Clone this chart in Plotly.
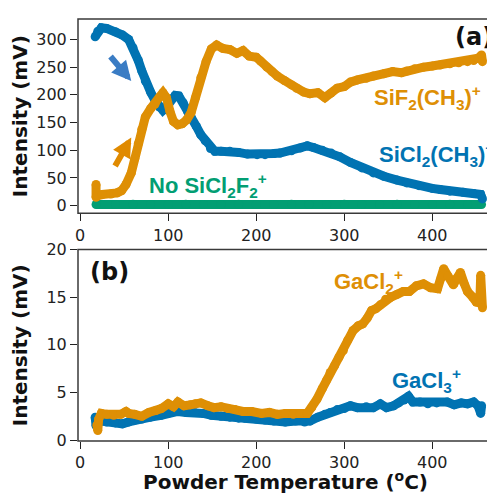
import plotly.graph_objects as go
from plotly.subplots import make_subplots

# ---- panel (a) data ----
sicl2_x = [17,20,24,30,40,48,55,60,66,70,74,80,85,90,94,98,103,108,112,117,122,126,132,137,142,148,153,160,170,180,190,201,210,220,227,240,250,258,265,275,285,295,307,320,333,345,360,371,385,400,409,420,435,447,455,457]
sicl2_y = [305,315,321,320,314,308,300,285,262,243,225,205,190,178,172,178,192,199,198,186,170,160,143,128,117,103,98,98,98,96,93,92,92,94,95,99,104,108,105,100,95,88,78,68,59,53,46,41,36,31,29,26,24,22,20,12]

sif2_x = [18,18,20,25,35,42,47,52,58,62,66,70,74,80,85,90,94,98,102,106,111,116,121,126,131,137,143,149,155,162,170,178,185,192,200,205,212,218,224,232,240,246,254,261,270,278,285,292,300,307,315,325,333,345,355,365,371,380,390,400,409,420,430,440,447,452,456,457]
sif2_y = [38,15,18,20,21,23,27,38,59,85,112,138,160,175,183,196,204,195,170,152,146,148,155,168,195,231,260,283,290,284,282,275,280,270,268,261,250,242,234,226,218,212,205,202,204,195,203,212,215,223,227,230,234,238,242,240,243,247,250,252,254,256,258,260,262,266,272,260]

sicl2f2_x = [18,40,60,80,100,120,140,160,180,200,220,240,260,280,300,320,340,360,380,400,420,440,456]
sicl2f2_y = [2,2,2.5,2,2,2.5,2,2,2.5,2,2,2.5,2,2,2.5,2,2,2.5,2,2,2.5,2,2]

# ---- panel (b) data ----
gacl3_x = [17,18,20,24,30,40,48,55,62,70,80,92,100,106,111,120,130,140,149,160,170,180,187,200,210,220,233,245,255,261,270,278,284,292,300,307,315,325,333,341,348,356,362,368,373,378,386,395,405,417,425,433,440,447,452,455,456]
gacl3_y = [2.4,1.5,1.8,2.0,1.9,1.8,1.7,1.9,2.1,2.2,2.4,2.6,2.8,3.1,3.0,2.9,2.9,2.8,2.6,2.5,2.4,2.3,2.3,2.2,2.1,2.0,1.9,2.0,1.9,2.0,2.4,2.7,2.9,3.2,3.3,3.6,3.4,3.5,3.4,3.8,3.4,3.6,3.9,4.2,4.6,4.0,4.0,3.8,3.9,4.0,3.7,3.9,3.8,4.0,3.6,2.8,3.6]

gacl2_x = [19,20,21,24,30,38,46,52,55,62,70,78,86,92,100,106,111,118,125,131,137,145,152,160,168,176,185,195,206,215,224,233,242,250,258,263,269,275,280,284,289,294,299,304,310,316,321,326,331,336,341,347,353,360,367,374,382,390,398,406,410,413,418,424,428,432,436,440,446,450,454,455,457]
gacl2_y = [1.6,1.0,2.2,2.8,2.7,2.6,2.7,3.0,2.8,2.7,2.5,2.9,3.1,3.3,3.8,3.5,4.0,3.6,3.7,3.8,3.9,3.6,3.4,3.5,3.3,3.2,3.0,3.0,2.8,2.9,2.7,2.8,2.7,2.8,2.8,3.4,4.3,5.4,6.3,7.1,7.8,8.7,9.4,10.5,11.5,12.0,12.2,12.8,13.6,13.8,14.2,14.8,15.0,15.3,15.6,15.6,16.2,16.4,16.0,15.9,17.0,18.0,17.2,16.3,17.0,17.6,16.5,15.6,15.0,14.5,14.4,17.3,13.9]

top_ticks = [0,50,100,150,200,250,300]
bot_ticks = [0,5,10,15,20]
x_ticks = [0,100,200,300,400]

BLUE = "#0173B2"
ORANGE = "#DE8F05"
GREEN = "#029E73"
FONT = "DejaVu Sans"
LFONT = "Liberation Sans"

fig = make_subplots(rows=2, cols=1, vertical_spacing=0.0)

def add(x, y, color, row):
    fig.add_trace(go.Scatter(x=x, y=y, mode="lines+markers",
                             line=dict(color=color, width=9),
                             marker=dict(color=color, size=9),
                             showlegend=False, hoverinfo="skip"), row=row, col=1)

add(sicl2f2_x, sicl2f2_y, GREEN, 1)
add(sicl2_x, sicl2_y, BLUE, 1)
add(sif2_x, sif2_y, ORANGE, 1)
add(gacl3_x, gacl3_y, BLUE, 2)
add(gacl2_x, gacl2_y, ORANGE, 2)

ax_common = dict(showline=False,
                 ticks="outside", ticklen=7, tickcolor="#222222", tickwidth=1.3, showgrid=False,
                 zeroline=False, layer="above traces",
                 tickfont=dict(family=FONT, size=16, color="#222"))

title_font = dict(family=FONT, size=20, color="#111", weight="bold")
fig.update_xaxes(range=[-2.5, 469], tickvals=x_ticks, domain=[0, 1], **ax_common)
fig.update_yaxes(**ax_common)
fig.update_yaxes(range=[-14, 337], tickvals=top_ticks, domain=[0.5395, 1.0], row=1, col=1,
                 title=dict(text="Intensity (mV)", font=title_font, standoff=6))
fig.update_yaxes(range=[-0.1, 20], tickvals=bot_ticks, domain=[0.0, 0.4535], row=2, col=1,
                 title=dict(text="Intensity (mV)", font=title_font, standoff=16))
fig.update_xaxes(row=2, col=1,
                 title=dict(text="Powder Temperature (<sup>o</sup>C)", font=title_font, standoff=6))

# panel frames
for xr, yr in (("x domain", "y domain"), ("x2 domain", "y2 domain")):
    fig.add_shape(type="rect", xref=xr, yref=yr, x0=0, x1=1, y0=0, y1=1,
                  line=dict(color="#3a3a3a", width=1.5), fillcolor="rgba(0,0,0,0)", layer="above")

def lab(c):
    return dict(family=LFONT, size=22, color=c, weight="bold")

annotations = [
    dict(x=1, y=1, xref="paper", yref="paper", text="(a)", showarrow=False,
         xanchor="right", yanchor="top", yshift=-2, xshift=2,
         font=dict(family=FONT, size=24, color="#111", weight="bold")),
    dict(x=0.024, y=0.4535, xref="paper", yref="paper", text="(b)", showarrow=False,
         xanchor="left", yanchor="top", yshift=-6,
         font=dict(family=FONT, size=24, color="#111", weight="bold")),
    dict(x=395, y=195, xref="x", yref="y", text="SiF<sub>2</sub>(CH<sub>3</sub>)<sup>+</sup>",
         showarrow=False, font=lab(ORANGE)),
    dict(x=405, y=92, xref="x", yref="y", text="SiCl<sub>2</sub>(CH<sub>3</sub>)<sup>+</sup>",
         showarrow=False, font=lab(BLUE)),
    dict(x=145, y=37, xref="x", yref="y", text="No SiCl<sub>2</sub>F<sub>2</sub><sup>+</sup>",
         showarrow=False, font=lab(GREEN)),
    dict(x=327, y=16.7, xref="x2", yref="y2", text="GaCl<sub>2</sub><sup>+</sup>",
         showarrow=False, font=lab(ORANGE)),
    dict(x=394, y=6.3, xref="x2", yref="y2", text="GaCl<sub>3</sub><sup>+</sup>",
         showarrow=False, font=lab(BLUE)),
    dict(x=58, y=225, xref="x", yref="y", ax=-22, ay=-26, text="", showarrow=True,
         arrowhead=2, arrowsize=0.65, arrowwidth=6, arrowcolor="#3A7CC4"),
    dict(x=58, y=123, xref="x", yref="y", ax=-17, ay=30, text="", showarrow=True,
         arrowhead=2, arrowsize=0.65, arrowwidth=6, arrowcolor="#E08A00"),
]

# page body adds an 8px margin, so the figure is 8px smaller than the window
fig.update_layout(width=487, height=486, margin=dict(l=70, r=2, t=4, b=52),
                  plot_bgcolor="white", paper_bgcolor="white",
                  annotations=annotations, font=dict(family=FONT))

fig.write_html("out.html")
